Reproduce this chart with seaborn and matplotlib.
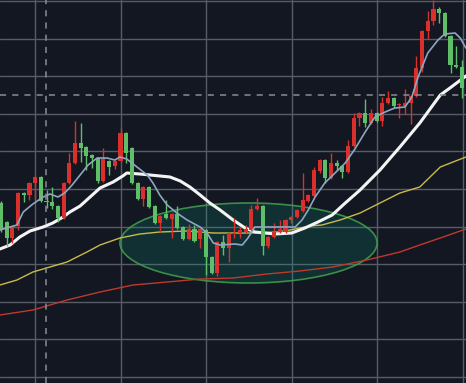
import matplotlib
matplotlib.use("Agg")
import matplotlib.pyplot as plt
from matplotlib.patches import Ellipse
import numpy as np
import pandas as pd
import seaborn as sns

# candle data, one entry per bar (red = up, green = down)
opens = [19.7, 17.8, 16.2, 17.4, 20.7, 20.5, 21.7, 22.3, 19.9, 19.8,
         19.4, 18.2, 21.7, 23.7, 25.7, 25.3, 24.5, 24.2, 21.9, 23.9,
         23.4, 23.9, 26.7, 25.2, 21.7, 20.1, 21.3, 19.4, 17.7, 18.6,
         18.1, 18.6, 17.3, 16.1, 17.1, 16.1, 17.0, 14.3, 12.7, 15.8,
         15.2, 16.6, 16.7, 16.8, 17.0, 19.1, 19.4, 15.4, 16.3, 16.8,
         16.8, 18.0, 18.3, 18.9, 19.9, 20.4, 22.9, 24.0, 22.2, 23.7,
         23.4, 22.8, 25.4, 28.2, 28.7, 27.7, 28.7, 27.9, 29.7, 30.2,
         29.5, 29.4, 29.7, 30.4, 33.2, 36.9, 37.9, 39.1, 38.7, 36.4,
         33.5, 33.3]
highs = [19.9, 17.9, 17.5, 20.8, 20.8, 21.8, 22.4, 22.4, 21.0, 21.3,
         19.5, 21.8, 24.7, 27.9, 27.7, 25.4, 24.6, 24.3, 25.2, 24.0,
         24.0, 27.2, 26.8, 25.3, 21.8, 21.4, 21.4, 19.5, 18.5, 20.0,
         18.7, 19.4, 17.4, 17.6, 17.5, 17.2, 17.1, 14.4, 15.9, 16.5,
         16.8, 18.2, 17.3, 17.5, 19.5, 20.2, 19.5, 16.4, 17.7, 18.0,
         18.1, 18.4, 19.1, 22.7, 20.6, 23.3, 24.1, 24.1, 24.7, 24.0,
         23.5, 26.0, 28.7, 28.8, 30.1, 29.1, 28.8, 30.3, 30.9, 30.3,
         29.7, 31.1, 30.5, 34.4, 37.0, 38.9, 40.0, 39.3, 38.8, 36.5,
         35.4, 34.0]
lows = [16.8, 15.4, 15.7, 17.0, 19.8, 20.0, 20.0, 19.8, 19.2, 19.1,
        17.8, 18.1, 21.6, 23.6, 23.8, 23.0, 23.2, 21.7, 21.8, 22.5,
        23.1, 23.8, 23.7, 21.6, 20.0, 19.4, 19.2, 17.6, 16.8, 18.1,
        16.2, 17.1, 16.0, 16.0, 15.8, 15.2, 12.5, 12.6, 12.4, 14.5,
        13.8, 16.2, 16.2, 16.7, 16.9, 19.0, 14.5, 15.2, 16.2, 16.7,
        16.7, 17.7, 18.2, 18.8, 19.8, 20.3, 22.7, 21.7, 22.1, 23.0,
        22.2, 22.7, 25.3, 27.4, 27.3, 27.6, 27.8, 27.4, 29.6, 29.2,
        28.2, 28.6, 27.6, 30.3, 32.8, 36.1, 37.5, 37.7, 36.3, 32.7,
        33.2, 30.2]
closes = [17.0, 16.2, 17.4, 20.7, 20.5, 21.7, 22.3, 19.9, 19.8, 19.4,
          18.2, 21.7, 23.7, 25.7, 25.2, 24.4, 24.2, 21.9, 24.1, 23.3,
          23.9, 26.7, 24.7, 21.7, 20.1, 21.3, 19.3, 17.7, 18.4, 18.2,
          18.6, 17.2, 16.1, 17.1, 15.9, 17.1, 14.3, 12.7, 15.8, 15.2,
          16.7, 16.7, 17.0, 17.1, 19.1, 19.4, 15.4, 16.3, 16.8, 17.1,
          18.0, 18.3, 19.0, 20.0, 20.5, 23.0, 24.0, 22.2, 23.7, 23.4,
          22.8, 25.4, 28.2, 28.7, 27.7, 28.7, 27.9, 29.7, 30.2, 29.4,
          29.6, 29.7, 30.4, 33.2, 36.9, 37.9, 39.1, 38.7, 36.4, 33.5,
          33.3, 31.2]

# moving average lines, sampled along the bar index
fast_idx = [-0.2, 2.8, 3.9, 5.6, 7.4, 8.6, 10.0, 11.2, 12.5, 13.9, 15.3, 16.9,
            18.6, 20.0, 20.9, 22.1, 23.9, 25.7, 26.7, 27.9, 29.2, 30.9, 32.7,
            35.0, 36.2, 37.3, 38.5, 41.1, 42.4, 43.4, 44.6, 46.9, 51.7, 52.9,
            54.0, 55.2, 56.9, 58.7, 60.5, 62.2, 64.0, 65.7, 67.5, 69.2, 71.0,
            72.2, 73.3, 75.0, 76.8, 78.0, 79.8, 80.7, 81.7]
fast_val = [17.0, 17.5, 18.8, 19.6, 20.3, 20.6, 20.3, 20.7, 21.5, 22.5, 23.5, 24.2,
            24.2, 24.0, 24.3, 24.1, 23.3, 22.5, 21.7, 20.5, 19.5, 18.7, 18.0,
            17.3, 16.7, 15.7, 15.5, 15.6, 15.5, 16.2, 17.3, 17.3, 17.3, 18.0,
            19.0, 20.3, 21.7, 22.7, 23.7, 25.1, 26.8, 28.3, 28.8, 29.2, 29.3,
            30.3, 32.3, 34.7, 36.0, 36.6, 36.7, 36.2, 35.2]

mid_idx = [-0.2, 1.6, 3.3, 5.1, 7.4, 9.1, 10.9, 12.1, 13.9, 17.4, 19.7, 21.4,
           22.1, 24.4, 26.2, 29.7, 31.5, 33.2, 35.0, 36.7, 38.5, 40.8, 42.9,
           44.6, 48.2, 51.1, 53.4, 55.7, 58.2, 60.5, 63.1, 66.6, 70.1, 73.6,
           77.2, 78.9, 81.7]
mid_val = [15.1, 15.5, 16.3, 16.9, 17.3, 17.7, 18.3, 18.8, 19.4, 21.2, 21.8, 22.4,
           22.7, 22.6, 22.5, 22.3, 21.9, 21.3, 20.5, 19.7, 19.0, 18.0, 17.2,
           16.8, 16.6, 16.7, 17.2, 17.8, 18.5, 19.7, 21.0, 23.0, 25.3, 27.7,
           30.5, 31.2, 32.4]

slow_idx = [-0.2, 2.8, 5.6, 8.6, 11.6, 15.1, 17.4, 20.9, 24.4, 27.9, 32.7, 37.3,
            43.8, 48.5, 50.8, 54.3, 56.4, 59.6, 63.1, 66.6, 70.1, 73.6, 77.2, 81.7]
slow_val = [11.5, 12.0, 12.8, 13.3, 13.8, 14.8, 15.5, 16.2, 16.6, 16.8, 16.9, 16.7,
            16.7, 16.8, 17.0, 17.4, 17.5, 18.0, 18.7, 19.7, 20.7, 21.3, 23.3, 24.3]

long_idx = [-0.2, 5.6, 11.6, 17.4, 23.2, 29.2, 35.0, 40.8, 46.7, 52.5, 58.3,
            64.3, 70.1, 73.6, 77.7, 81.7]
long_val = [8.5, 9.0, 10.0, 10.8, 11.5, 11.8, 12.1, 12.2, 12.6, 12.9, 13.3,
            14.0, 14.8, 15.5, 16.3, 17.1]

BG = "#131722"
UP = "#d9302c"
DOWN = "#5fbf69"

sns.set_style("dark", {"axes.facecolor": BG, "figure.facecolor": BG})

fig = plt.figure(figsize=(4.66, 3.83), dpi=100)
ax = fig.add_axes([0, 0, 1, 1])
ax.set_facecolor(BG)

# grid (no labels, like the trading view screenshot)
for gx in 5.98 + 15.04 * np.arange(6):
    ax.axvline(gx, color="#585c66", lw=1, zorder=0)
for gy in 39.9 - 3.76 * np.arange(11):
    ax.axhline(gy, color="#585c66", lw=1, zorder=0)

# highlighted consolidation zone
ax.add_patch(Ellipse((43.5, 15.7), 45.2, 8.0, facecolor=(0.03, 0.6, 0.5, 0.2),
                     edgecolor=(0.26, 0.63, 0.3, 0.85), lw=1.2, zorder=1))

df = pd.DataFrame({"o": opens, "h": highs, "l": lows, "c": closes})
df["i"] = np.arange(len(df))
colors = np.where(df["c"] >= df["o"], UP, DOWN)
ax.vlines(df["i"], df["l"], df["h"], colors=colors, lw=1, zorder=4)
body_lo = np.minimum(df["o"], df["c"])
body_h = np.maximum(np.abs(df["c"] - df["o"]), 0.12)
ax.bar(df["i"], body_h, bottom=body_lo, width=0.72, color=colors,
       edgecolor="none", linewidth=0, zorder=5)

# moving averages
sns.lineplot(x=long_idx, y=long_val, ax=ax, color="#c0392b", lw=1, sort=False, zorder=2)
sns.lineplot(x=slow_idx, y=slow_val, ax=ax, color="#c9ba4a", lw=1, sort=False, zorder=2)
sns.lineplot(x=mid_idx, y=mid_val, ax=ax, color="#f4f4f4", lw=2.2, sort=False, zorder=3)
sns.lineplot(x=fast_idx, y=fast_val, ax=ax, color="#8ea6bf", lw=1.2, sort=False, zorder=6)

# crosshair
ax.axvline(7.9, color="#8a8d96", lw=1.1, ls=(0, (4, 4)), zorder=7)
ax.axhline(30.5, color="#8a8d96", lw=1.1, ls=(0, (4, 4)), zorder=7)

ax.set_xlim(-0.18, 81.72)
ax.set_ylim(1.7, 40.0)
ax.set_xticks([])
ax.set_yticks([])
for s in ax.spines.values():
    s.set_visible(False)

fig.savefig("out.png", dpi=100, facecolor=BG)
